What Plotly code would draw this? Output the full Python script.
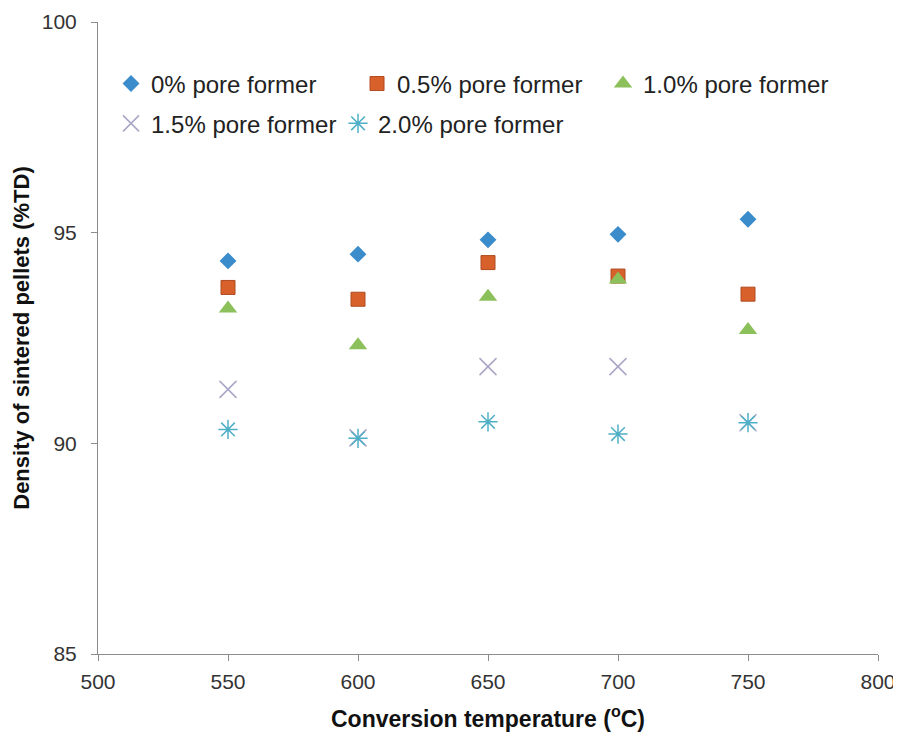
import plotly.graph_objects as go

temps = [550, 600, 650, 700, 750]
d0 = [94.33, 94.49, 94.83, 94.96, 95.32]
d05 = [93.70, 93.42, 94.29, 93.97, 93.54]
d10 = [93.20, 92.33, 93.48, 93.89, 92.69]
d15 = [91.28, 90.13, 91.82, 91.82, 90.49]
d20 = [90.33, 90.12, 90.51, 90.22, 90.49]

names = ["0% pore former", "0.5% pore former", "1.0% pore former",
         "1.5% pore former", "2.0% pore former"]

font = "Liberation Sans, Arial, sans-serif"
fig = go.Figure()

fig.add_trace(go.Scatter(x=temps, y=d0, mode="markers", name=names[0], legend="legend",
                         marker=dict(symbol="diamond", size=13, color="#3A8CCB",
                                     line=dict(width=0))))
fig.add_trace(go.Scatter(x=temps, y=d05, mode="markers", name=names[1], legend="legend",
                         marker=dict(symbol="square", size=14, color="#D8602A",
                                     line=dict(width=1, color="#B04A20"))))
fig.add_trace(go.Scatter(x=temps, y=d10, mode="markers", name=names[2], legend="legend",
                         marker=dict(symbol="triangle-up", size=16, color="#8CC05A",
                                     line=dict(width=0))))
fig.add_trace(go.Scatter(x=temps, y=d15, mode="markers", name=names[3], legend="legend2",
                         marker=dict(symbol="x-thin-open", size=17, color="#A9A6C6",
                                     line=dict(width=1.5, color="#A9A6C6"))))
fig.add_trace(go.Scatter(x=temps, y=d20, mode="markers", name=names[4], legend="legend2",
                         marker=dict(symbol="asterisk-open", size=16, color="#4FAFC6",
                                     line=dict(width=1.5, color="#4FAFC6"))))

fig.update_layout(
    width=893, height=724,
    margin=dict(l=90, r=23, t=14, b=78, autoexpand=False),
    paper_bgcolor="white", plot_bgcolor="white",
    font=dict(family=font, color="#333333", size=16),
    legend=dict(orientation="h", x=0.0167, y=0.902, xanchor="left", yanchor="middle",
                font=dict(size=24, color="#222222"), bgcolor="rgba(0,0,0,0)",
                entrywidth=201, entrywidthmode="pixels", itemwidth=30),
    legend2=dict(orientation="h", x=0.0167, y=0.839, xanchor="left", yanchor="middle",
                 font=dict(size=24, color="#222222"), bgcolor="rgba(0,0,0,0)",
                 entrywidth=182, entrywidthmode="pixels", itemwidth=30),
    xaxis=dict(range=[500, 800], dtick=50, tick0=500, showgrid=False, zeroline=False,
               automargin=False, ticklabeloverflow="allow",
               showline=True, linecolor="#8C8C8C", linewidth=1,
               ticks="outside", ticklen=6, tickcolor="#8C8C8C", ticklabelstandoff=3,
               tickfont=dict(size=21, color="#333333"),
               title=dict(text="<b>Conversion temperature (<sup>o</sup>C)</b>",
                          font=dict(size=23, color="#111111"), standoff=22)),
    yaxis=dict(range=[85, 100], dtick=5, showgrid=False, zeroline=False,
               automargin=False, ticklabeloverflow="allow",
               showline=True, linecolor="#8C8C8C", linewidth=1,
               ticks="outside", ticklen=6, tickcolor="#8C8C8C", ticklabelstandoff=10,
               tickfont=dict(size=21, color="#333333"),
               title=dict(text="<b>Density of sintered pellets (%TD)</b>",
                          font=dict(size=22, color="#111111"), standoff=6)),
)

fig.write_html("out.html")
